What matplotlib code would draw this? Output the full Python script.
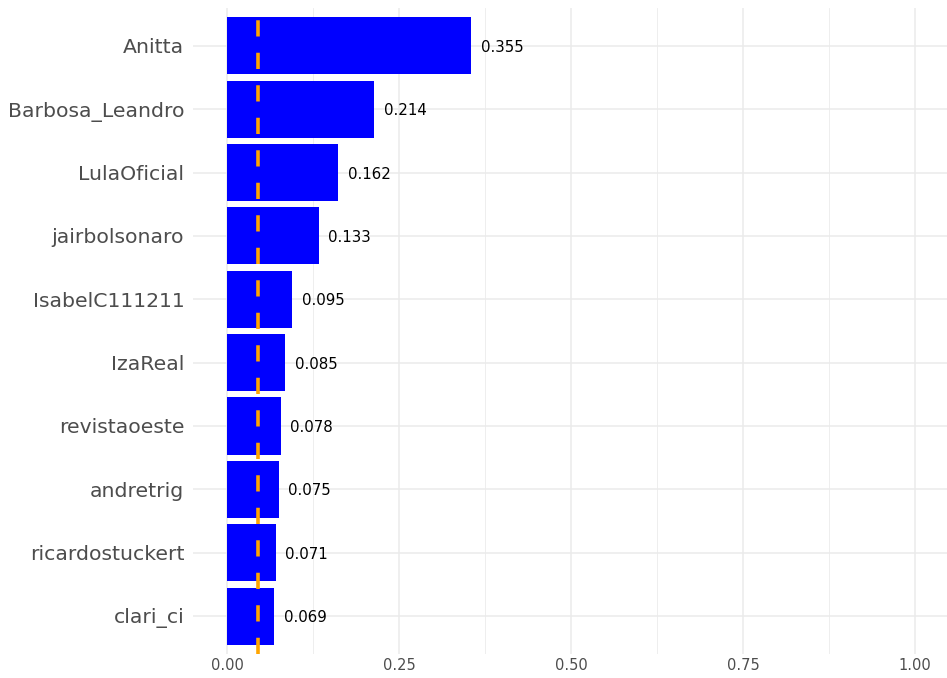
import matplotlib.pyplot as plt
import numpy as np

users = ['Anitta', 'Barbosa_Leandro', 'LulaOficial', 'jairbolsonaro', 'IsabelC111211',
         'IzaReal', 'revistaoeste', 'andretrig', 'ricardostuckert', 'clari_ci']
scores = [0.355, 0.214, 0.162, 0.133, 0.095, 0.085, 0.078, 0.075, 0.071, 0.069]
ref_line = 0.045
x_ticks = [0.0, 0.25, 0.5, 0.75, 1.0]
x_tick_labels = ['0.00', '0.25', '0.50', '0.75', '1.00']

W, H = 947, 678
fig = plt.figure(figsize=(W / 100, H / 100), dpi=100)
x0_px, x1_px = 192.6, 949.4
top_px, bot_px = 8, 654
ax = fig.add_axes([x0_px / W, 1 - bot_px / H, (x1_px - x0_px) / W, (bot_px - top_px) / H])

ypos = np.arange(len(users))

# grid
for v in np.arange(0.125, 1.0, 0.25):
    ax.axvline(v, color='#EBEBEB', linewidth=0.6, zorder=0)
for v in x_ticks:
    ax.axvline(v, color='#EBEBEB', linewidth=1.1, zorder=0)
for y in ypos:
    ax.axhline(y, color='#EBEBEB', linewidth=1.1, zorder=0)

ax.barh(ypos, scores, height=0.9, color='#0000FF', zorder=2)
ax.axvline(ref_line, color='#FFA500', linewidth=2.6, dashes=(4.5, 4.5), zorder=3)

for y, s in zip(ypos, scores):
    ax.text(s + 0.014, y, f'{s:.3f}', va='center_baseline', ha='left', fontsize=10.8,
            color='black', zorder=4)

ax.set_xlim(-0.05, 1.05)
ax.set_ylim(len(users) - 0.4, -0.6)
ax.set_yticks(ypos)
ax.set_yticklabels(users, fontsize=14.7, color='#4D4D4D')
ax.set_xticks(x_ticks)
ax.set_xticklabels(x_tick_labels, fontsize=10.5, color='#4D4D4D')
ax.tick_params(length=0)
ax.tick_params(axis='y', pad=6)
ax.tick_params(axis='x', pad=3)
for sp in ax.spines.values():
    sp.set_visible(False)

fig.savefig('out.png', dpi=100)
